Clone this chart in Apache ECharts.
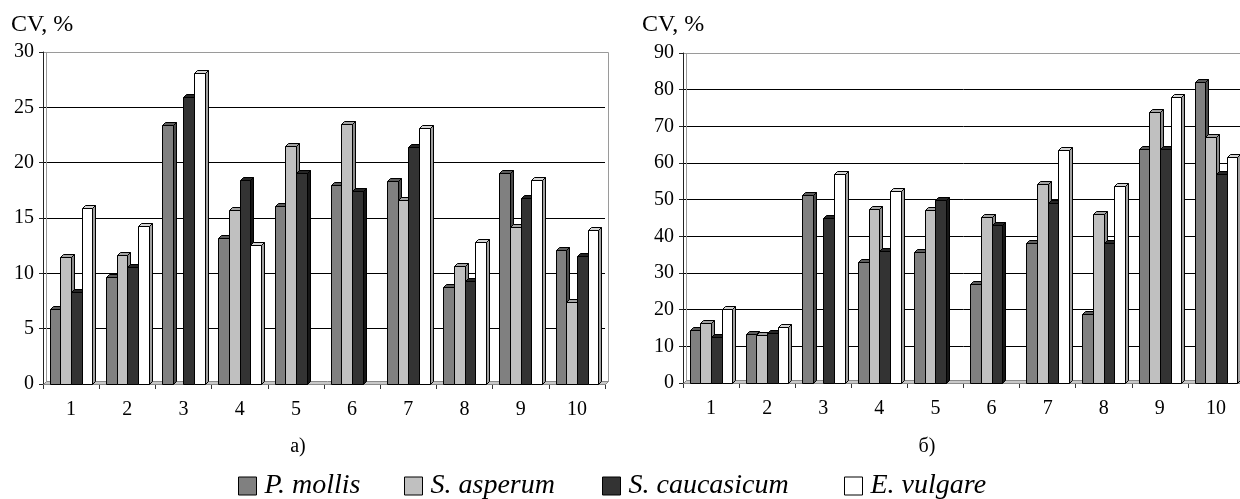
<!DOCTYPE html>
<html><head><meta charset="utf-8">
<script src="https://cdn.jsdelivr.net/npm/echarts@6/dist/echarts.min.js"></script>
<style>html,body{margin:0;padding:0;background:#fff;overflow:hidden}#c{width:1250px;height:499px}</style>
</head><body><div id="c"></div>
<script>
// ---- data ----
const categories = ['1','2','3','4','5','6','7','8','9','10'];
const seriesNames = ['P. mollis','S. asperum','S. caucasicum','E. vulgare'];
// panel а)
const pMollisA   = [6.8, 9.7, 23.4, 13.2, 16.1, 18.0, 18.3, 8.8, 19.1, 12.1];
const sAsperumA  = [11.5, 11.7, null, 15.7, 21.5, 23.5, 16.6, 10.7, 14.2, 7.4];
const sCaucA     = [8.3, 10.6, 25.9, 18.4, 19.1, 17.4, 21.4, 9.3, 16.8, 11.6];
const eVulgA     = [15.9, 14.3, 28.1, 12.6, null, null, 23.1, 12.8, 18.4, 13.9];
// panel б)
const pMollisB   = [14.5, 13.5, 51.3, 33.1, 35.7, 27.0, 38.1, 18.9, 63.8, 82.2];
const sAsperumB  = [16.5, 13.0, null, 47.5, 47.2, 45.4, 54.2, 46.1, 73.8, 67.0];
const sCaucB     = [12.5, 13.6, 44.9, 36.1, 49.9, 43.1, 49.0, 38.1, 63.7, 57.0];
const eVulgB     = [20.1, 15.2, 57.0, 52.5, null, null, 63.5, 53.8, 78.0, 61.7];
const yTicksA = [0, 5, 10, 15, 20, 25, 30];
const yTicksB = [0, 10, 20, 30, 40, 50, 60, 70, 80, 90];
const yTitle = 'CV, %';
const panelLabels = ['а)', 'б)'];

// ---- styles ----
const FONT = '"Liberation Serif", "Times New Roman", serif';
const front = ['#808080', '#c0c0c0', '#333333', '#ffffff'];
const side  = ['#4a4a4a', '#8a8a8a', '#151515', '#a0a0a0'];
const topc  = ['#5c5c5c', '#a4a4a4', '#242424', '#d4d4d4'];
const D = 3;

function bar3d(si) {
  return function (params, api) {
    const cat = api.value(0), v = api.value(1);
    const band = api.size([1, 0])[0];
    const bw = band * 0.19;
    const base = api.coord([cat, 0]);
    const tp = api.coord([cat, v]);
    const x0 = Math.round(base[0] - 2 * bw + si * bw) + 0.5;
    const x1 = Math.round(base[0] - 2 * bw + (si + 1) * bw) + 0.5;
    const yT = Math.round(tp[1]) + 0.5, yB = Math.round(base[1]) + 0.5;
    return {
      type: 'group', children: [
        { type: 'polygon', shape: { points: [[x1, yT], [x1 + D, yT - D], [x1 + D, yB - D], [x1, yB]] },
          style: { fill: side[si], stroke: '#000', lineWidth: 1 } },
        { type: 'polygon', shape: { points: [[x0, yT], [x0 + D, yT - D], [x1 + D, yT - D], [x1, yT]] },
          style: { fill: topc[si], stroke: '#000', lineWidth: 1 } },
        { type: 'rect', shape: { x: x0, y: yT, width: x1 - x0, height: yB - yT },
          style: { fill: front[si], stroke: '#000', lineWidth: 1 } }
      ]
    };
  };
}

function floorItem(params, api) {
  const cs = params.coordSys;
  const x = Math.round(cs.x) + 0.5, y = Math.round(cs.y) + 0.5;
  const w = Math.round(cs.width), h = Math.round(cs.height);
  return {
    type: 'group', children: [
      { type: 'polyline', shape: { points: [[x + D, y + h - D], [x + D, y], [x + w + D, y], [x + w + D, y + h - D], [x + w, y + h]] },
        style: { fill: null, stroke: '#9a9a9a', lineWidth: 1 } },
      { type: 'polygon', shape: { points: [[x, y + h], [x + D, y + h - D], [x + w + D, y + h - D], [x + w, y + h]] },
        style: { fill: '#c8c8c8', stroke: '#8a8a8a', lineWidth: 1 } }
    ]
  };
}

const panels = [
  { vals: [pMollisA, sAsperumA, sCaucA, eVulgA], ticks: yTicksA },
  { vals: [pMollisB, sAsperumB, sCaucB, eVulgB], ticks: yTicksB }
];

const grids = [
  { left: 43, top: 52, width: 562, height: 332 },
  { left: 683, top: 53, width: 561, height: 330 }
];

const xAxes = [], yAxes = [], series = [];
panels.forEach((p, gi) => {
  xAxes.push({
    type: 'category', gridIndex: gi, data: categories, boundaryGap: true,
    axisLine: { show: true, lineStyle: { color: '#000', width: 1 } },
    axisTick: { show: true, length: 5, lineStyle: { color: '#333' } },
    axisLabel: { color: '#000', fontSize: 20, fontFamily: FONT, margin: 16 },
    splitLine: { show: false }
  });
  const tk = p.ticks;
  const splitColors = tk.map((t, i) => i === tk.length - 1 ? '#9a9a9a' : '#000');
  yAxes.push({
    type: 'value', gridIndex: gi, min: tk[0], max: tk[tk.length - 1], interval: tk[1] - tk[0],
    axisLine: { show: true, lineStyle: { color: '#222', width: 1 } },
    axisTick: { show: true, length: 4, lineStyle: { color: '#222' } },
    axisLabel: { color: '#000', fontSize: 20, fontFamily: FONT, margin: 9 },
    splitLine: { show: true, lineStyle: { color: splitColors, width: 1 } }
  });
  series.push({
    type: 'custom', name: 'floor' + gi, xAxisIndex: gi, yAxisIndex: gi, z: 1, silent: true,
    renderItem: floorItem, data: [[0, 0]], encode: { x: 0, y: 1 }
  });
  p.vals.forEach((arr, si) => {
    series.push({
      type: 'custom', name: seriesNames[si], xAxisIndex: gi, yAxisIndex: gi, z: 2,
      itemStyle: { color: front[si], borderColor: '#000', borderWidth: 1 },
      renderItem: bar3d(si),
      encode: { x: 0, y: 1 },
      data: arr.map((v, i) => [i, v]).filter(d => d[1] !== null)
    });
  });
});

const legendLefts = [233, 399, 597, 839];
const legends = seriesNames.map((n, i) => ({
  left: legendLefts[i], top: 467, orient: 'horizontal',
  icon: 'rect', itemWidth: 18, itemHeight: 18, itemGap: 0, selectedMode: false,
  textStyle: { fontSize: 28, fontStyle: 'italic', fontFamily: FONT, color: '#000', padding: [0, 0, 0, 3] },
  data: [{ name: n, itemStyle: { color: front[i], borderColor: '#000', borderWidth: 1 } }]
}));

const chart = echarts.init(document.getElementById('c'), null, { renderer: 'canvas' });
chart.setOption({
  backgroundColor: '#fff',
  animation: false,
  grid: grids.map(g => Object.assign({ show: false, containLabel: false }, g)),
  xAxis: xAxes, yAxis: yAxes, series: series, legend: legends,
  graphic: [
    { type: 'text', left: 11, top: 13, style: { text: yTitle, font: '24px ' + FONT, fill: '#000' } },
    { type: 'text', left: 642, top: 13, style: { text: yTitle, font: '24px ' + FONT, fill: '#000' } },
    { type: 'text', x: 298, y: 447, style: { text: panelLabels[0], font: '20px ' + FONT, fill: '#000', align: 'center', verticalAlign: 'middle' } },
    { type: 'text', x: 927, y: 447, style: { text: panelLabels[1], font: '20px ' + FONT, fill: '#000', align: 'center', verticalAlign: 'middle' } }
  ]
});
</script></body></html>
